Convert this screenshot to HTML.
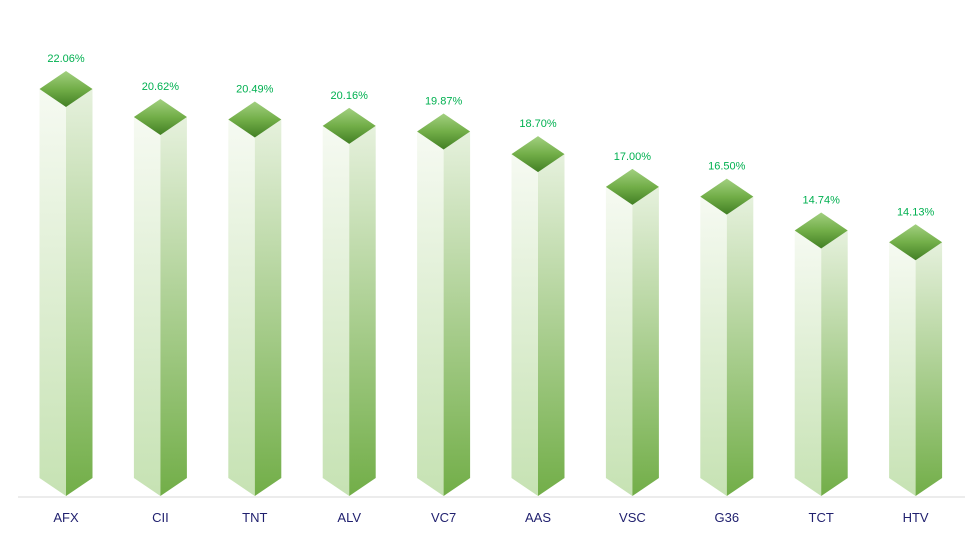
<!DOCTYPE html>
<html><head><meta charset="utf-8"><style>
html,body{margin:0;padding:0;background:#fff;}
svg{display:block;font-family:"Liberation Sans",sans-serif;}
</style></head><body>
<svg width="980" height="533" viewBox="0 0 980 533" xmlns="http://www.w3.org/2000/svg">
<defs>
<linearGradient id="lf" x1="0" y1="0" x2="0" y2="1"><stop offset="0" stop-color="#f6faf2"/><stop offset="1" stop-color="#c6e2b3"/></linearGradient>
<linearGradient id="rf" x1="0" y1="0" x2="0" y2="1"><stop offset="0" stop-color="#e6f1dd"/><stop offset="1" stop-color="#72ae48"/></linearGradient>
<linearGradient id="tp" x1="0" y1="0" x2="0" y2="1"><stop offset="0" stop-color="#a2d080"/><stop offset="0.5" stop-color="#72ae48"/><stop offset="1" stop-color="#427f24"/></linearGradient>
</defs>
<line x1="18" y1="497" x2="965" y2="497" stroke="#d9d9d9" stroke-width="1"/>
<g text-anchor="middle">
<g transform="translate(66,0)">
<polygon points="-26.5,89 0,107 0,496 -26.5,478" fill="url(#lf)"/>
<polygon points="26.5,89 0,107 0,496 26.5,478" fill="url(#rf)"/>
<polygon points="0,71 26.5,89 0,107 -26.5,89" fill="url(#tp)"/>
<text y="62" font-size="11" fill="#00b050">22.06%</text>
<text y="522" font-size="13" fill="#1f1f6e">AFX</text>
</g>
<g transform="translate(160.4,0)">
<polygon points="-26.5,117 0,135 0,496 -26.5,478" fill="url(#lf)"/>
<polygon points="26.5,117 0,135 0,496 26.5,478" fill="url(#rf)"/>
<polygon points="0,99 26.5,117 0,135 -26.5,117" fill="url(#tp)"/>
<text y="90" font-size="11" fill="#00b050">20.62%</text>
<text y="522" font-size="13" fill="#1f1f6e">CII</text>
</g>
<g transform="translate(254.8,0)">
<polygon points="-26.5,119.5 0,137.5 0,496 -26.5,478" fill="url(#lf)"/>
<polygon points="26.5,119.5 0,137.5 0,496 26.5,478" fill="url(#rf)"/>
<polygon points="0,101.5 26.5,119.5 0,137.5 -26.5,119.5" fill="url(#tp)"/>
<text y="92.5" font-size="11" fill="#00b050">20.49%</text>
<text y="522" font-size="13" fill="#1f1f6e">TNT</text>
</g>
<g transform="translate(349.2,0)">
<polygon points="-26.5,125.9 0,143.9 0,496 -26.5,478" fill="url(#lf)"/>
<polygon points="26.5,125.9 0,143.9 0,496 26.5,478" fill="url(#rf)"/>
<polygon points="0,107.9 26.5,125.9 0,143.9 -26.5,125.9" fill="url(#tp)"/>
<text y="98.9" font-size="11" fill="#00b050">20.16%</text>
<text y="522" font-size="13" fill="#1f1f6e">ALV</text>
</g>
<g transform="translate(443.6,0)">
<polygon points="-26.5,131.5 0,149.5 0,496 -26.5,478" fill="url(#lf)"/>
<polygon points="26.5,131.5 0,149.5 0,496 26.5,478" fill="url(#rf)"/>
<polygon points="0,113.5 26.5,131.5 0,149.5 -26.5,131.5" fill="url(#tp)"/>
<text y="104.5" font-size="11" fill="#00b050">19.87%</text>
<text y="522" font-size="13" fill="#1f1f6e">VC7</text>
</g>
<g transform="translate(538,0)">
<polygon points="-26.5,154.1 0,172.1 0,496 -26.5,478" fill="url(#lf)"/>
<polygon points="26.5,154.1 0,172.1 0,496 26.5,478" fill="url(#rf)"/>
<polygon points="0,136.1 26.5,154.1 0,172.1 -26.5,154.1" fill="url(#tp)"/>
<text y="127.1" font-size="11" fill="#00b050">18.70%</text>
<text y="522" font-size="13" fill="#1f1f6e">AAS</text>
</g>
<g transform="translate(632.4,0)">
<polygon points="-26.5,186.9 0,204.9 0,496 -26.5,478" fill="url(#lf)"/>
<polygon points="26.5,186.9 0,204.9 0,496 26.5,478" fill="url(#rf)"/>
<polygon points="0,168.9 26.5,186.9 0,204.9 -26.5,186.9" fill="url(#tp)"/>
<text y="159.9" font-size="11" fill="#00b050">17.00%</text>
<text y="522" font-size="13" fill="#1f1f6e">VSC</text>
</g>
<g transform="translate(726.8,0)">
<polygon points="-26.5,196.6 0,214.6 0,496 -26.5,478" fill="url(#lf)"/>
<polygon points="26.5,196.6 0,214.6 0,496 26.5,478" fill="url(#rf)"/>
<polygon points="0,178.6 26.5,196.6 0,214.6 -26.5,196.6" fill="url(#tp)"/>
<text y="169.6" font-size="11" fill="#00b050">16.50%</text>
<text y="522" font-size="13" fill="#1f1f6e">G36</text>
</g>
<g transform="translate(821.2,0)">
<polygon points="-26.5,230.5 0,248.5 0,496 -26.5,478" fill="url(#lf)"/>
<polygon points="26.5,230.5 0,248.5 0,496 26.5,478" fill="url(#rf)"/>
<polygon points="0,212.5 26.5,230.5 0,248.5 -26.5,230.5" fill="url(#tp)"/>
<text y="203.5" font-size="11" fill="#00b050">14.74%</text>
<text y="522" font-size="13" fill="#1f1f6e">TCT</text>
</g>
<g transform="translate(915.6,0)">
<polygon points="-26.5,242.3 0,260.3 0,496 -26.5,478" fill="url(#lf)"/>
<polygon points="26.5,242.3 0,260.3 0,496 26.5,478" fill="url(#rf)"/>
<polygon points="0,224.3 26.5,242.3 0,260.3 -26.5,242.3" fill="url(#tp)"/>
<text y="215.3" font-size="11" fill="#00b050">14.13%</text>
<text y="522" font-size="13" fill="#1f1f6e">HTV</text>
</g>
</g>
</svg>
</body></html>
